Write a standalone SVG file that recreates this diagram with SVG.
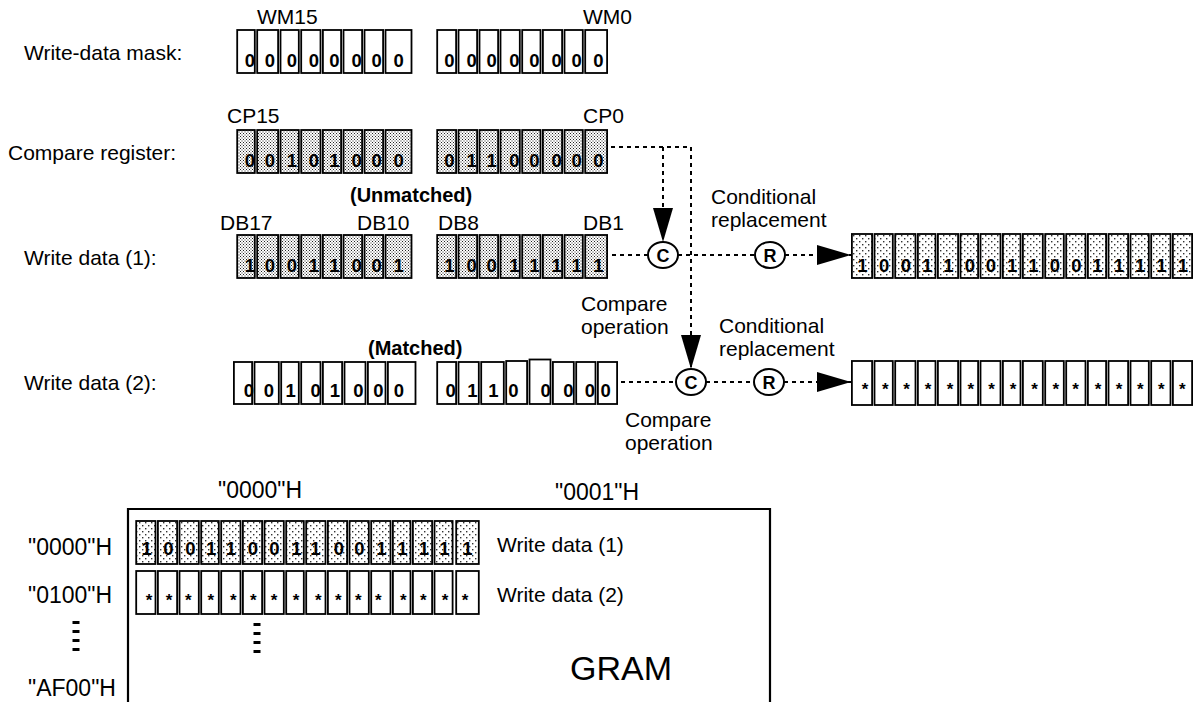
<svg xmlns="http://www.w3.org/2000/svg" xmlns:xlink="http://www.w3.org/1999/xlink" width="1200" height="702" viewBox="0 0 1200 702">
<style>
text{font-family:"Liberation Sans",Arial,sans-serif;fill:#000}
.lbl{font-size:21px}
.bl{font-size:20px;font-weight:bold}
.d{font-size:18.5px;font-weight:bold;text-anchor:middle}
.st{font-size:17px;font-weight:bold;text-anchor:middle}
.h{font-size:23px}
.gram{font-size:34px}
.cl{font-size:18px;font-weight:bold;text-anchor:middle}
.cells rect{stroke:#000;stroke-width:1.8}
.dot{fill:none;stroke:#000;stroke-width:2;stroke-dasharray:4 4}
.circ{fill:#fff;stroke:#000;stroke-width:2}
.frame{fill:none;stroke:#000;stroke-width:2.2}
.vd{fill:none;stroke:#000;stroke-width:7;stroke-dasharray:3 6}
</style>
<defs>
<pattern id="dense" width="3" height="3" patternUnits="userSpaceOnUse"><rect width="3" height="3" fill="#fff"/><rect x="0" y="0" width="1" height="1" fill="#222"/><rect x="1.5" y="1.5" width="1" height="1" fill="#222"/></pattern>
<pattern id="sparse" width="6" height="6" patternUnits="userSpaceOnUse"><rect width="6" height="6" fill="#fff"/><rect x="1" y="1" width="1.4" height="1.4" fill="#333"/><rect x="4" y="4" width="1.4" height="1.4" fill="#333"/></pattern>
<g id="rowAB" class="cells">
<rect x="237.2" y="0" width="17.6" height="43"/><rect x="257.2" y="0" width="20.9" height="43"/><rect x="280.5" y="0" width="18.3" height="43"/><rect x="301.2" y="0" width="19.3" height="43"/><rect x="322.9" y="0" width="18.2" height="43"/><rect x="343.5" y="0" width="18.6" height="43"/><rect x="364.5" y="0" width="18.6" height="43"/><rect x="385.5" y="0" width="26" height="43"/>
<rect x="437.2" y="0" width="18.9" height="43"/><rect x="458.5" y="0" width="18.6" height="43"/><rect x="479.5" y="0" width="18.6" height="43"/><rect x="500.5" y="0" width="19.3" height="43"/><rect x="522.2" y="0" width="18.3" height="43"/><rect x="542.9" y="0" width="19.2" height="43"/><rect x="564.5" y="0" width="18.3" height="43"/><rect x="585.2" y="0" width="21.9" height="43"/>
</g>
<g id="rowR" class="cells">
<rect x="851.9" y="0" width="20.2" height="44"/><rect x="874.5" y="0" width="18.3" height="44"/><rect x="895.2" y="0" width="20.3" height="44"/><rect x="917.9" y="0" width="17.6" height="44"/><rect x="937.9" y="0" width="20.2" height="44"/><rect x="960.5" y="0" width="17.6" height="44"/><rect x="980.5" y="0" width="20" height="44"/><rect x="1002.9" y="0" width="17.6" height="44"/><rect x="1022.9" y="0" width="19.9" height="44"/><rect x="1045.2" y="0" width="18.6" height="44"/><rect x="1066.2" y="0" width="19.3" height="44"/><rect x="1087.9" y="0" width="18.2" height="44"/><rect x="1108.5" y="0" width="19.6" height="44"/><rect x="1130.5" y="0" width="18.3" height="44"/><rect x="1151.2" y="0" width="19.3" height="44"/><rect x="1172.9" y="0" width="19.2" height="44"/>
</g>
<g id="rowG" class="cells">
<rect x="136.2" y="0" width="19.3" height="43"/><rect x="157.9" y="0" width="19.2" height="43"/><rect x="179.5" y="0" width="19.3" height="43"/><rect x="201.2" y="0" width="17.6" height="43"/><rect x="221.2" y="0" width="19.3" height="43"/><rect x="242.9" y="0" width="19.2" height="43"/><rect x="264.5" y="0" width="19.3" height="43"/><rect x="286.2" y="0" width="17.6" height="43"/><rect x="306.2" y="0" width="19.3" height="43"/><rect x="327.9" y="0" width="19.2" height="43"/><rect x="349.5" y="0" width="19.3" height="43"/><rect x="371.2" y="0" width="19.3" height="43"/><rect x="392.9" y="0" width="17.6" height="43"/><rect x="412.9" y="0" width="19.2" height="43"/><rect x="434.5" y="0" width="18.1" height="43"/><rect x="456.2" y="0" width="22.6" height="43"/>
</g>
<marker id="ah" markerUnits="userSpaceOnUse" markerWidth="34" markerHeight="20" refX="34" refY="10" orient="auto" viewBox="0 0 34 20"><path d="M0,0 L34,10 L0,20 Z" fill="#000"/></marker>
</defs>

<g id="mask">
<text class="lbl" x="24" y="60">Write-data mask:</text>
<text class="lbl" x="257" y="24">WM15</text>
<text class="lbl" x="583" y="24">WM0</text>
<use xlink:href="#rowAB" y="30" fill="#fff"/>
<text class="d" x="250 270 292 314 334.5 356.7 376.7 398.7" y="67">00000000</text>
<text class="d" x="449.5 471.7 491.7 514.3 534.3 556.7 576.7 598.3" y="67">00000000</text>
</g>

<g id="compare-register">
<text class="lbl" x="8" y="160">Compare register:</text>
<text class="lbl" x="227" y="123">CP15</text>
<text class="lbl" x="583" y="123">CP0</text>
<use xlink:href="#rowAB" y="130" fill="url(#dense)"/>
<text class="d" x="250 270 292 314 334.5 356.7 376.7 398.7" y="167">00101000</text>
<text class="d" x="449.5 471.7 491.7 514.3 534.3 556.7 576.7 598.3" y="167">01100000</text>
</g>

<g id="write-data-1">
<text class="lbl" x="24" y="265">Write data (1):</text>
<text class="bl" x="350" y="202">(Unmatched)</text>
<text class="lbl" x="220" y="230">DB17</text>
<text class="lbl" x="357" y="230">DB10</text>
<text class="lbl" x="438" y="230">DB8</text>
<text class="lbl" x="583" y="230">DB1</text>
<use xlink:href="#rowAB" y="235" fill="url(#dense)"/>
<text class="d" x="250 270 292 314 334.5 356.7 376.7 398.7" y="272">10011001</text>
<text class="d" x="449.5 471.7 491.7 514.3 534.3 556.7 576.7 598.3" y="272">10011111</text>
</g>

<g id="write-data-2">
<text class="lbl" x="24" y="390">Write data (2):</text>
<text class="bl" x="368" y="355">(Matched)</text>
<g class="cells" fill="#fff">
<rect x="233.9" y="362" width="18.2" height="42"/><rect x="254.5" y="362" width="24.3" height="42"/><rect x="281.2" y="362" width="17.6" height="42"/><rect x="301.2" y="362" width="19.3" height="42"/><rect x="322.9" y="362" width="19.2" height="42"/><rect x="344.5" y="362" width="21" height="42"/><rect x="367.9" y="362" width="17.6" height="42"/><rect x="387.9" y="362" width="27.6" height="42"/>
<rect x="437.2" y="362" width="18.9" height="42"/><rect x="458.5" y="362" width="20.3" height="42"/><rect x="481.2" y="362" width="22.6" height="42"/><rect x="506.2" y="361" width="20.9" height="43"/><rect x="529.5" y="359.5" width="21" height="44.5"/><rect x="552.9" y="362" width="20.9" height="42"/><rect x="576.2" y="362" width="19.3" height="42"/><rect x="597.9" y="362" width="19.2" height="42"/>
</g>
<text class="d" x="249 269 290.7 315.7 335 358.3 378.3 399" y="397">00101000</text>
<text class="d" x="450.7 472.3 493.3 513.3 545.7 568.3 590 605.7" y="397">01100000</text>
</g>

<g id="result-1">
<use xlink:href="#rowR" y="234" fill="url(#sparse)"/>
<text class="d" x="862.5 884.2 905.8 927.2 948.5 969.8 991 1012.2 1033.4 1055 1076.3 1097.5 1118.8 1140.2 1161.3 1183" y="272">1001100110011111</text>
</g>

<g id="result-2">
<use xlink:href="#rowR" y="361" fill="#fff"/>
<text class="st" x="865 885.4 906.5 928 950 970.9 991.6 1013 1034.5 1055.9 1075.6 1098 1119 1140.2 1161.3 1182.4" y="395">****************</text>
</g>

<g id="c1"><ellipse class="circ" cx="663" cy="255" rx="15" ry="13"/><text class="cl" x="663" y="261.5">C</text></g>
<g id="r1"><ellipse class="circ" cx="770" cy="255" rx="15" ry="13"/><text class="cl" x="770" y="261.5">R</text></g>
<g id="c2"><ellipse class="circ" cx="691" cy="382" rx="15" ry="13"/><text class="cl" x="691" y="388.5">C</text></g>
<g id="r2"><ellipse class="circ" cx="769" cy="382" rx="15" ry="13"/><text class="cl" x="769" y="388.5">R</text></g>

<g id="labels-ops">
<text class="lbl" x="711" y="204">Conditional</text>
<text class="lbl" x="711" y="227">replacement</text>
<text class="lbl" x="581" y="311">Compare</text>
<text class="lbl" x="581" y="334">operation</text>
<text class="lbl" x="719" y="333">Conditional</text>
<text class="lbl" x="719" y="356">replacement</text>
<text class="lbl" x="625" y="427">Compare</text>
<text class="lbl" x="625" y="450">operation</text>
</g>

<g id="connectors">
<path class="dot" d="M611,147 H691 V369" marker-end="url(#ah)"/>
<path class="dot" d="M663,147 V242" marker-end="url(#ah)"/>
<path class="dot" d="M612,255 H648"/>
<path class="dot" d="M678,255 H755"/>
<path class="dot" d="M785,255 H851" marker-end="url(#ah)"/>
<path class="dot" d="M621,382 H676"/>
<path class="dot" d="M706,382 H754"/>
<path class="dot" d="M784,382 H851" marker-end="url(#ah)"/>
</g>

<g id="gram">
<path class="frame" d="M128,702 V509 H770 V702"/>
<text class="h" x="218" y="498">"0000"H</text>
<text class="h" x="555" y="500">"0001"H</text>
<text class="h" x="28" y="555">"0000"H</text>
<text class="h" x="28" y="603">"0100"H</text>
<text class="h" x="28" y="696">"AF00"H</text>
<path class="vd" d="M76,621 V653"/>
<path class="vd" d="M257,623 V656"/>
<use xlink:href="#rowG" y="521" fill="url(#sparse)"/>
<text class="d" x="146.7 168.5 190.5 211.2 231 253 274.5 296.5 315.5 339 359.5 381.5 402.5 424 444.5 467.5" y="555">1001100110011111</text>
<use xlink:href="#rowG" y="571" fill="#fff"/>
<text class="st" x="149 169 188.3 210.7 233.3 253.3 274 296 318.3 338.3 358.3 378.3 403.3 423.3 445 465" y="606">****************</text>
<text class="lbl" x="497" y="552">Write data (1)</text>
<text class="lbl" x="497" y="602">Write data (2)</text>
<text class="gram" x="570" y="680">GRAM</text>
</g>
</svg>
